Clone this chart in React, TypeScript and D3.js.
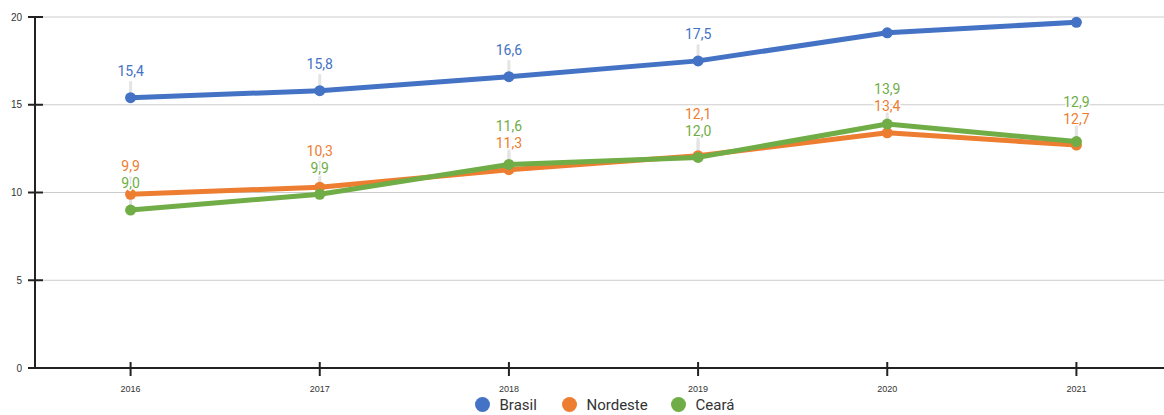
import React from "react";
import * as d3 from "d3";

const years = ["2016", "2017", "2018", "2019", "2020", "2021"];
const brasil = [15.4, 15.8, 16.6, 17.5, 19.1, 19.7];
const nordeste = [9.9, 10.3, 11.3, 12.1, 13.4, 12.7];
const ceara = [9.0, 9.9, 11.6, 12.0, 13.9, 12.9];
const seriesNames = ["Brasil", "Nordeste", "Ceará"];
const seriesColors = ["#4472C4", "#ED7D31", "#70AD47"];
const yTicks = [0, 5, 10, 15, 20];

const W = 1164;
const H = 415;
const M = { left: 35, right: -6, top: 17, bottom: 47 };

export default function App() {
  const series = [brasil, nordeste, ceara];
  const x = d3.scalePoint<string>().domain(years).range([M.left + 1, W - M.right + 1]).padding(0.5);
  const y = d3.scaleLinear().domain([0, 20]).range([H - M.bottom, M.top]);
  const line = d3
    .line<number>()
    .x((_, i) => x(years[i]) as number)
    .y((d) => y(d));

  const fmt = (v: number) => v.toFixed(1).replace(".", ",");

  type Lab = { s: number; i: number; px: number; py: number; ly: number };
  const labels: Lab[] = [];
  years.forEach((yr, i) => {
    const group: Lab[] = series.map((arr, s) => ({
      s,
      i,
      px: x(yr) as number,
      py: y(arr[i]),
      ly: y(arr[i]) - 26.5,
    }));
    group.sort((a, b) => b.ly - a.ly);
    for (let k = 1; k < group.length; k++) {
      if (group[k - 1].ly - group[k].ly < 17) group[k].ly = group[k - 1].ly - 17;
    }
    group.forEach((g) => {
      if (g.ly - 6 > M.top) labels.push(g);
    });
  });

  const y0 = y(0);
  const legY = 404.5;
  return (
    <svg
      width={W}
      height={H}
      style={{ position: "absolute", left: 0, top: 0, fontFamily: "Roboto, 'Liberation Sans', sans-serif" }}
    >
      {yTicks.filter((t) => t > 0).map((t) => (
        <line key={"g" + t} x1={M.left} x2={W} y1={y(t)} y2={y(t)} stroke="#cccccc" strokeWidth={1} />
      ))}
      {labels.map((l, k) => (
        <line key={"c" + k} x1={l.px} x2={l.px} y1={l.py} y2={l.ly + 10} stroke="#e4e4e4" strokeWidth={3} />
      ))}
      <line x1={M.left} x2={M.left} y1={M.top} y2={y0} stroke="#222" strokeWidth={2} />
      <line x1={M.left - 7} x2={W} y1={y0} y2={y0} stroke="#222" strokeWidth={2} />
      {yTicks.map((t) => (
        <g key={"yt" + t}>
          {t > 0 && <line x1={M.left - 7} x2={M.left + 8} y1={y(t)} y2={y(t)} stroke="#222" strokeWidth={2} />}
          <text x={M.left - 13} y={y(t)} dy="0.35em" textAnchor="end" fontSize={10} fill="#333" fontFamily="'Liberation Sans', Arial, sans-serif">
            {t}
          </text>
        </g>
      ))}
      {years.map((yr) => (
        <g key={"xt" + yr}>
          <line x1={x(yr)} x2={x(yr)} y1={y0 - 6} y2={y0 + 8} stroke="#222" strokeWidth={2} />
          <text x={x(yr)} y={y0 + 24} textAnchor="middle" fontSize={9} fill="#333" fontFamily="'Liberation Sans', Arial, sans-serif">
            {yr}
          </text>
        </g>
      ))}
      {series.map((arr, s) => (
        <g key={"s" + s}>
          <path d={line(arr) || ""} fill="none" stroke={seriesColors[s]} strokeWidth={5} strokeLinejoin="round" strokeLinecap="round" />
          {arr.map((v, i) => (
            <circle key={i} cx={x(years[i])} cy={y(v)} r={5.5} fill={seriesColors[s]} />
          ))}
        </g>
      ))}
      {labels.map((l, k) => (
        <text
          key={"l" + k}
          x={l.px}
          y={l.ly}
          dy="0.35em"
          textAnchor="middle"
          fontSize={14}
          fill={seriesColors[l.s]}
          stroke="#fff"
          strokeWidth={3}
          paintOrder="stroke"
        >
          {fmt(series[l.s][l.i])}
        </text>
      ))}
      {seriesNames.map((n, s) => {
        const lx = [482.5, 569.5, 678.5][s];
        return (
          <g key={"lg" + s}>
            <circle cx={lx} cy={legY} r={7.5} fill={seriesColors[s]} />
            <text x={lx + 17} y={legY} dy="0.35em" fontSize={15} fill="#333">
              {n}
            </text>
          </g>
        );
      })}
    </svg>
  );
}
